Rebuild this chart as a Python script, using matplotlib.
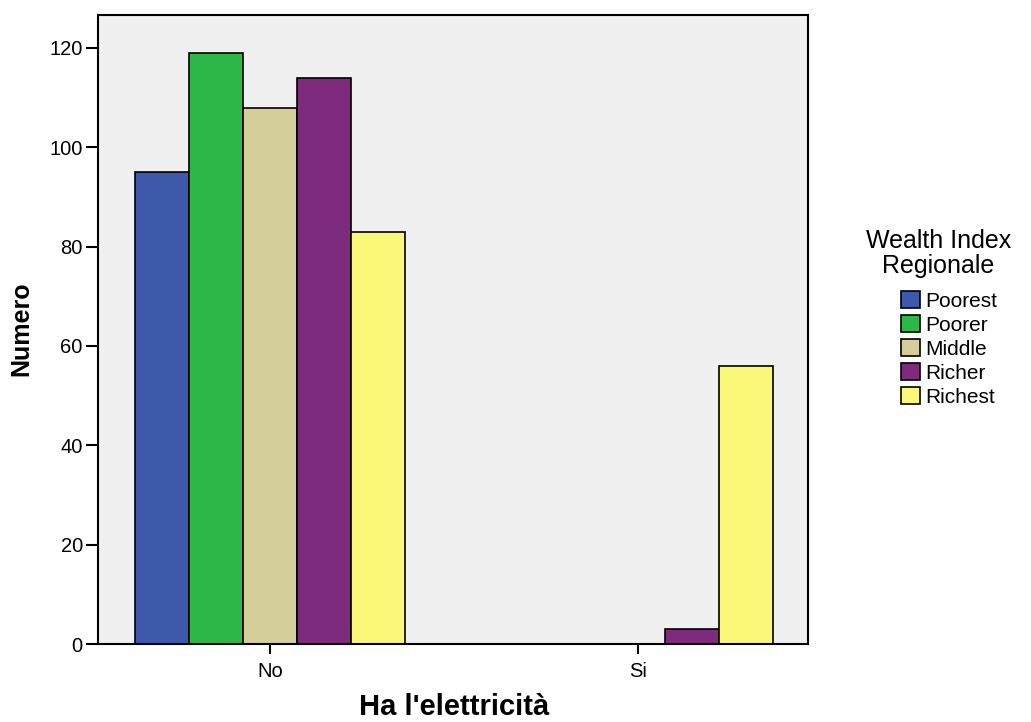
import matplotlib.pyplot as plt
import numpy as np

plt.rcParams['font.family'] = ['Liberation Sans', 'DejaVu Sans']

categories = ['No', 'Si']
groups = ['Poorest', 'Poorer', 'Middle', 'Richer', 'Richest']
values = {
    'Poorest': [95, 0],
    'Poorer': [119, 0],
    'Middle': [108, 0],
    'Richer': [114, 3],
    'Richest': [83, 56],
}
colors = ['#3e58ac', '#2fb84a', '#d4cf9a', '#7e2a7d', '#fbf879']

fig = plt.figure(figsize=(10.31, 7.22), dpi=100)
ax = fig.add_axes([0.0951, 0.108, 0.6886, 0.871])
ax.set_facecolor('#f0f0f0')

x = np.arange(len(categories))
w = 0.147
for i, (g, c) in enumerate(zip(groups, colors)):
    vals = np.array(values[g], dtype=float)
    pos = x + (i - 2) * w
    mask = vals > 0
    ax.bar(pos[mask], vals[mask], width=w, color=c, edgecolor='black',
           linewidth=1.2, label=g, zorder=2)

ax.set_xlim(-0.467, 1.462)
ax.set_ylim(0, 126.6)
ax.set_yticks([0, 20, 40, 60, 80, 100, 120])
ax.set_xticks(x)
ax.set_xticklabels(categories)
ax.tick_params(axis='both', labelsize=14.5, width=1.5, direction='out')
ax.tick_params(axis='y', length=9, pad=2)
ax.tick_params(axis='x', length=7, pad=6)
for s in ax.spines.values():
    s.set_linewidth(1.5)

ax.set_ylabel('Numero', fontsize=18, fontweight='bold')
ax.yaxis.set_label_coords(0.032, 0.545, transform=fig.transFigure)
ax.set_xlabel("Ha l'elettricità", fontsize=21, fontweight='bold')
ax.xaxis.set_label_coords(0.44, 0.002, transform=fig.transFigure)
ax.xaxis.label.set_va('bottom')

fig.text(0.91, 0.649, 'Wealth Index\nRegionale', ha='center', va='center',
         fontsize=18, multialignment='center', linespacing=1.05)
leg = ax.legend(loc='upper left', bbox_to_anchor=(0.874, 0.597),
                bbox_transform=fig.transFigure, frameon=False, fontsize=15,
                handlelength=0.9, handleheight=0.9, handletextpad=0.25,
                labelspacing=0.2, borderaxespad=0, borderpad=0)

fig.savefig('out.png', dpi=100)
